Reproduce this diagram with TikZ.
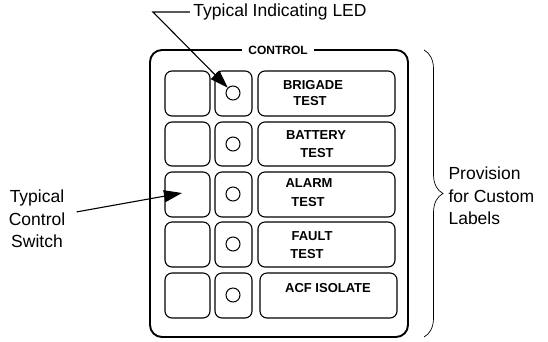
\documentclass[tikz,border=0pt]{standalone}
\usepackage{fontspec}
\setmainfont{Liberation Sans}
\usetikzlibrary{arrows.meta,decorations.pathreplacing}
\begin{document}
\begin{tikzpicture}[x=1pt, y=-1pt,
    panel/.style={line width=1.9pt, rounded corners=12pt},
    key/.style={line width=1.1pt, rounded corners=7pt},
    led/.style={draw, circle, line width=1pt, minimum size=14pt, inner sep=0pt},
    keytext/.style={font=\fontsize{13}{15}\selectfont\bfseries},
    note/.style={font=\fontsize{17.5}{22.5}\selectfont, align=center},
    callout/.style={line width=1.1pt, -{Triangle[length=18pt,width=12pt]}}]
    \useasboundingbox (0,0) rectangle (548,341);

    % Panel outline
    \draw[panel] (150,50) rectangle (408,337);
    \node[font=\fontsize{12}{14}\selectfont\bfseries, fill=white, inner xsep=6pt] (title) at (278,50) {CONTROL};

    % Brigade row
    \draw[key] (165,71) rectangle (210,116);
    \draw[key] (215,71) rectangle (252,116);
    \node[led] (led1) at (233,93) {};
    \draw[key] (258,71) rectangle (395,116);
    \node[keytext] (brigade) at (313,85) {BRIGADE};
    \node[keytext] (brigadetest) at (310,101) {TEST};

    % Battery row
    \draw[key] (165,122) rectangle (210,166);
    \draw[key] (215,122) rectangle (252,166);
    \node[led] (led2) at (233,144) {};
    \draw[key] (258,122) rectangle (395,166);
    \node[keytext] (battery) at (316,135) {BATTERY};
    \node[keytext] (batterytest) at (317,153) {TEST};

    % Alarm row
    \draw[key] (165,172) rectangle (210,217);
    \draw[key] (215,172) rectangle (252,217);
    \node[led] (led3) at (233,194) {};
    \draw[key] (258,172) rectangle (395,217);
    \node[keytext] (alarm) at (309,183) {ALARM};
    \node[keytext] (alarmtest) at (308,202) {TEST};

    % Fault row
    \draw[key] (165,222) rectangle (210,267);
    \draw[key] (215,222) rectangle (252,267);
    \node[led] (led4) at (233,244) {};
    \draw[key] (258,222) rectangle (395,267);
    \node[keytext] (fault) at (312,236) {FAULT};
    \node[keytext] (faulttest) at (307,254) {TEST};

    % ACF isolate row
    \draw[key] (165,273) rectangle (210,318);
    \draw[key] (215,273) rectangle (252,318);
    \node[led] (led5) at (233,295) {};
    \draw[key] (260,273) rectangle (397,318);
    \node[keytext] (acf) at (328,288) {ACF ISOLATE};

    % Callouts
    \node[note] (ledlbl) at (280,12) {Typical Indicating LED};
    \coordinate (ledbend) at (153,12);
    \draw[callout] (ledlbl.west) -- (ledbend) -- (led1);

    \node[note] (swlbl) at (37,219) {Typical\\Control\\Switch};
    \coordinate (swtip) at (182,193);
    \draw[callout, shorten <=8pt] (swlbl) -- (swtip);

    % Label brace
    \draw[line width=0.7pt, decorate, decoration={brace, amplitude=19pt}] (424,50) -- (424,337);
    \node[note, align=left, anchor=west] (customlbl) at (445,196) {Provision\\for Custom\\Labels};
\end{tikzpicture}
\end{document}
